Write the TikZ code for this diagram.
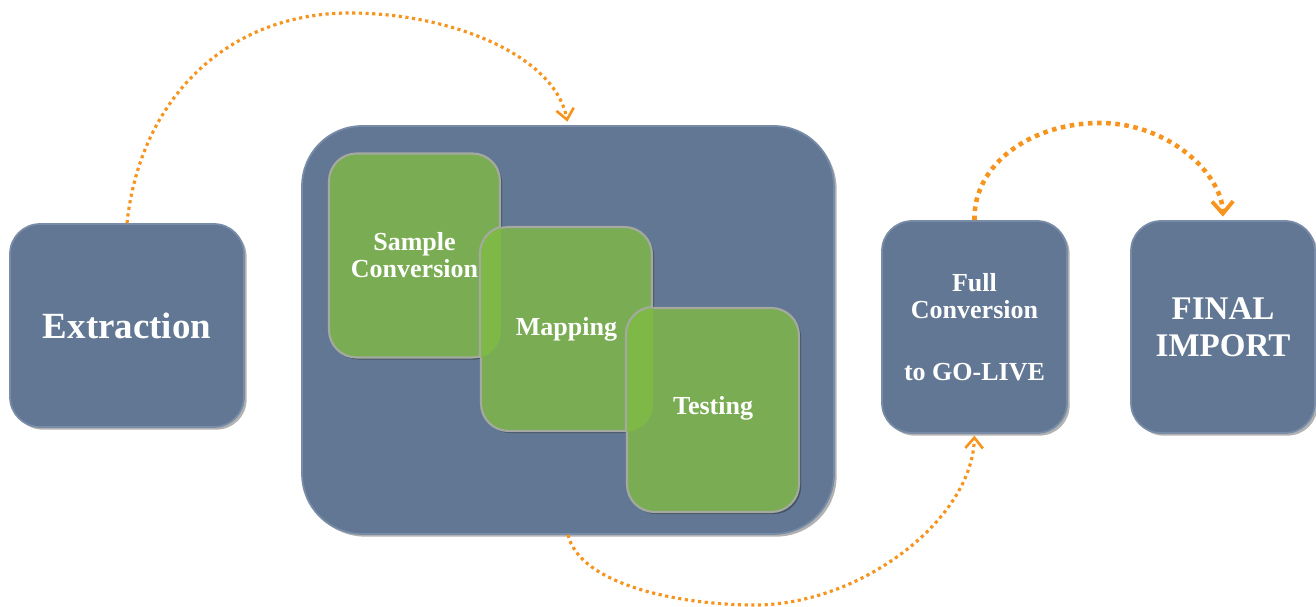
\documentclass[tikz,border=0pt]{standalone}
\usepackage{fontspec}
\setmainfont{Liberation Serif}
\usetikzlibrary{arrows.meta,shadows}
\definecolor{boxblue}{RGB}{98,119,147}
\definecolor{boxedge}{RGB}{120,140,168}
\definecolor{boxgreen}{RGB}{122,173,83}
\definecolor{hlgreen}{RGB}{126,184,70}
\definecolor{greenedge}{RGB}{165,170,160}
\definecolor{arrorange}{RGB}{247,148,30}
\tikzset{
  bluebox/.style={rounded corners=0.6cm, fill=boxblue, draw=boxedge, line width=1pt,
    drop shadow={shadow xshift=1.5pt, shadow yshift=-1.5pt, opacity=0.3, fill=black},
    text=white, font=\bfseries, align=center, inner sep=0pt},
  greenbox/.style={rounded corners=0.55cm, fill=boxgreen, draw=greenedge, line width=1.2pt,
    drop shadow={shadow xshift=1.2pt, shadow yshift=-1.2pt, opacity=0.3, fill=black},
    text=white, font=\fontsize{14.8}{15.4}\selectfont\bfseries, align=center, inner sep=0pt,
    minimum width=3.42cm, minimum height=4.08cm},
  thinflow/.style={draw=arrorange, line width=1.8pt, dash pattern=on 1.8pt off 2.0pt,
    -{Straight Barb[length=6pt,width=10pt,line width=1.5pt]}},
  thickflow/.style={draw=arrorange, line width=2.6pt, dash pattern=on 2.6pt off 2.6pt,
    -{Straight Barb[length=7pt,width=12pt,line width=2.2pt]}}
}
\begin{document}
\begin{tikzpicture}[x=0.02cm,y=-0.02cm]
\useasboundingbox (0,0) rectangle (1316,607);
% outer boxes
\node[bluebox, minimum width=4.68cm, minimum height=4.06cm,
  font=\fontsize{21}{24}\selectfont\bfseries] (extr) at (127,325.5) {Extraction};
\node[bluebox, rounded corners=1.2cm, minimum width=10.64cm, minimum height=8.16cm] (cont) at (568,330) {};
\node[bluebox, minimum width=3.7cm, minimum height=4.24cm,
  font=\fontsize{14.8}{15.4}\selectfont\bfseries] (full) at (974.5,327) {Full\\Conversion\\[20pt]to GO-LIVE};
\node[bluebox, minimum width=3.68cm, minimum height=4.24cm,
  font=\fontsize{18.8}{21}\selectfont\bfseries] (final) at (1223,327) {FINAL\\IMPORT};
% inner green boxes
\node[greenbox] (samp) at (414.5,255.5) {Sample\\Conversion};
\node[greenbox] (mapp) at (566.5,329) {};
\begin{scope}
  \clip[rounded corners=0.55cm] (samp.south west) rectangle (samp.north east);
  \path[rounded corners=0.55cm, fill=hlgreen, draw=greenedge, line width=1.2pt] (mapp.south west) rectangle (mapp.north east);
\end{scope}
\node[text=white, font=\fontsize{14.8}{15.4}\selectfont\bfseries] (mapt) at (mapp.center) {Mapping};
\node[greenbox, minimum width=3.44cm] (test) at (713,410) {};
\begin{scope}
  \clip[rounded corners=0.55cm] (mapp.south west) rectangle (mapp.north east);
  \path[rounded corners=0.55cm, fill=hlgreen, draw=greenedge, line width=1.2pt] (test.south west) rectangle (test.north east);
\end{scope}
\node[text=white, font=\fontsize{14.8}{15.4}\selectfont\bfseries] (testt) at ([yshift=0.04cm]test.center) {Testing};
% connectors
\draw[thinflow, shorten >=2pt] (extr.north) .. controls (140,100) and (226,13) .. (350,13)
   .. controls (450,13) and (555,55) .. (cont.north);
\draw[thinflow, shorten >=1pt] (cont.south) .. controls (580,585) and (680,605) .. (755,605)
   .. controls (860,605) and (972,520) .. (full.south);
\draw[thickflow, shorten >=2pt] (full.north) .. controls (973,165) and (1030,123) .. (1100,123)
   .. controls (1170,123) and (1222,175) .. (final.north);
\end{tikzpicture}
\end{document}
